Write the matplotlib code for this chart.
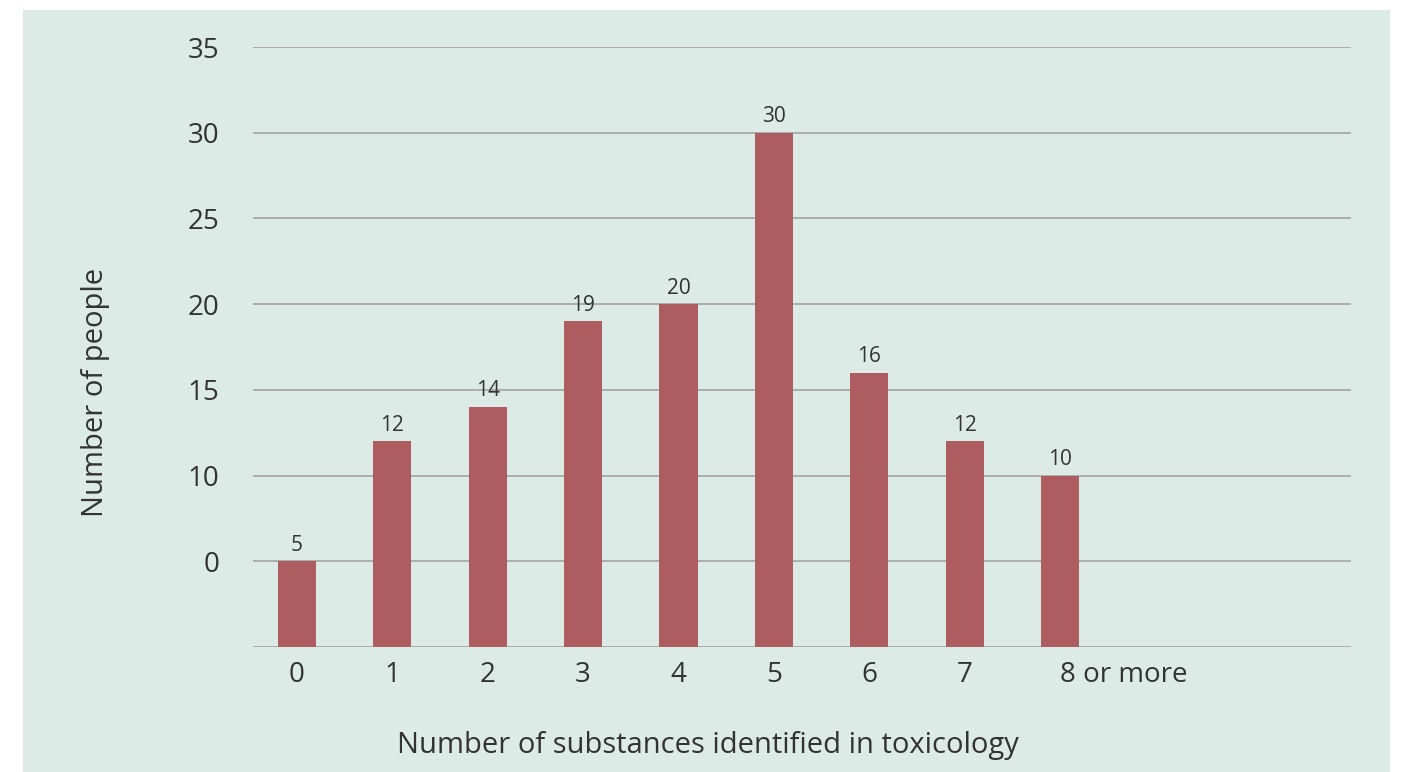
import matplotlib.pyplot as plt
from matplotlib.patches import Rectangle
from matplotlib import font_manager

substances = ["0", "1", "2", "3", "4", "5", "6", "7", "8 or more"]
people = [5, 12, 14, 19, 20, 30, 16, 12, 10]
ytick_values = [0, 5, 10, 15, 20, 25, 30, 35]
ytick_labels = ["", "0", "10", "15", "20", "25", "30", "35"]

installed = {f.name for f in font_manager.fontManager.ttflist}
family = [f for f in ["Liberation Sans Narrow", "Open Sans", "DejaVu Sans"] if f in installed]
plt.rcParams["font.family"] = family

panel = "#dcebe6"
bar_color = "#ad5c60"
text_color = "#333333"

fig = plt.figure(figsize=(14.04, 7.72), dpi=100, facecolor="white")
fig.patches.append(Rectangle((23 / 1404, 0), (1390 - 23) / 1404, (772 - 10) / 772,
                             transform=fig.transFigure, facecolor=panel,
                             edgecolor="none", zorder=-10))

ax = fig.add_axes([253 / 1404, (772 - 647) / 772, (1351 - 253) / 1404, (647 - 47) / 772])
ax.set_zorder(1)
ax.set_facecolor("none")

x = list(range(len(people)))
ax.bar(x, people, width=0.4, color=bar_color, zorder=3)
for xi, v in zip(x, people):
    ax.annotate(str(v), (xi, v), xytext=(0, 4), textcoords="offset points",
                ha="center", va="bottom", fontsize=15, color=text_color)

ax.set_xlim(-0.46, 11.05)
ax.set_ylim(0, 35)
ax.set_yticks(ytick_values)
ax.set_yticklabels(ytick_labels, fontsize=20, color=text_color)
ax.set_xticks(x)
ax.set_xticklabels(substances, fontsize=20, color=text_color)
ax.get_xticklabels()[-1].set_ha("left")
ax.tick_params(axis="both", length=0)
ax.tick_params(axis="y", pad=24)
ax.tick_params(axis="x", pad=10)

ax.grid(axis="y", color="#a3a3a3", linewidth=1.2, zorder=1)
for s in ax.spines.values():
    s.set_visible(False)

ax.set_xlabel("Number of substances identified in toxicology", fontsize=21,
              color=text_color)
ax.xaxis.set_label_coords(0.414, -0.14)
ax.set_ylabel("Number of people", fontsize=21, color=text_color)
ax.yaxis.set_label_coords(-0.13, 0.425)

fig.savefig("out.png", dpi=100, facecolor="white")
